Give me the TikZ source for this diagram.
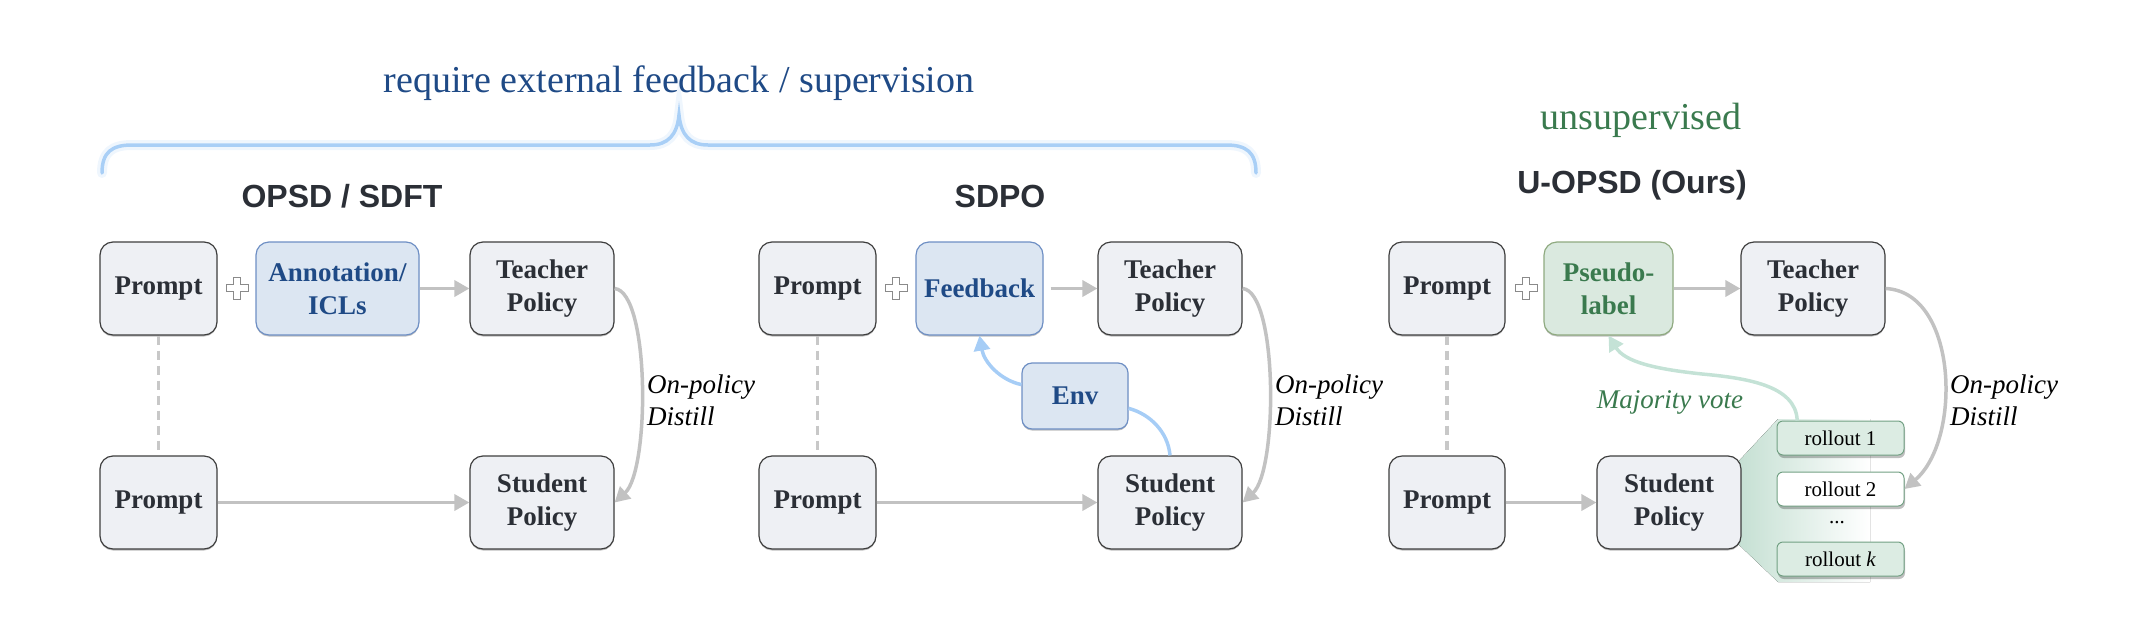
\documentclass[tikz,border=0pt]{standalone}
\usepackage{fontspec}
\setmainfont{Liberation Serif}
\setsansfont{Liberation Sans}
\usetikzlibrary{arrows.meta,calc,shadows}
\definecolor{darktext}{HTML}{2B2F36}
\definecolor{boxfill}{HTML}{EEF0F4}
\definecolor{boxborder}{HTML}{3E3E3E}
\definecolor{bluefill}{HTML}{DCE6F2}
\definecolor{blueborder}{HTML}{6E8FC4}
\definecolor{bluetext}{HTML}{1F4A86}
\definecolor{greenfill}{HTML}{DAE9DF}
\definecolor{greenborder}{HTML}{8FAA80}
\definecolor{greentext}{HTML}{3A7A4E}
\definecolor{arrgray}{HTML}{C2C2C2}
\definecolor{dashgray}{HTML}{C8C8C8}
\definecolor{bracecol}{HTML}{A9CFF6}
\definecolor{envarrow}{HTML}{A6CDF6}
\definecolor{mvarrow}{HTML}{C4E2D6}
\definecolor{rollfill}{HTML}{DCECE3}
\definecolor{rollborder}{HTML}{72A083}
\definecolor{plusgray}{HTML}{8A8A8A}
\definecolor{fanleft}{HTML}{C4DFD2}
\begin{document}
\begin{tikzpicture}[x=1pt,y=-1pt,
  box/.style={draw=boxborder, fill=boxfill, rounded corners=13pt, line width=1.2pt,
    minimum height=93pt, align=center, inner sep=2pt,
    font=\fontsize{27}{33}\selectfont\bfseries, text=darktext,
    drop shadow={shadow xshift=0pt, shadow yshift=-1.5pt, opacity=0.25, fill=black}},
  bluebox/.style={box, draw=blueborder, fill=bluefill, text=bluetext},
  greenbox/.style={box, draw=greenborder, fill=greenfill, text=greentext},
  roll/.style={draw=rollborder, fill=rollfill, rounded corners=6pt, line width=1pt,
    minimum width=127pt, minimum height=34pt, inner sep=1pt,
    font=\fontsize{21}{24}\selectfont, text=black,
    drop shadow={shadow xshift=1pt, shadow yshift=-3pt, opacity=0.25, fill=black}},
  arr/.style={draw=arrgray, line width=3.5pt, -{Triangle[length=15pt,width=16pt]}},
  dashline/.style={draw=dashgray, line width=3.5pt, dash pattern=on 9pt off 6pt},
  envarr/.style={draw=envarrow, line width=3.5pt},
  mvarr/.style={draw=mvarrow, line width=3.5pt},
  lab/.style={align=left, font=\fontsize{27}{32}\selectfont\itshape, text=black, inner sep=0pt},
  title/.style={font=\fontsize{32}{36}\selectfont\sffamily\bfseries, text=darktext, inner sep=0pt},
  bigtxt/.style={font=\fontsize{38}{44}\selectfont, inner sep=0pt},
  plussign/.pic={\draw[fill=white, draw=plusgray, line width=1pt]
    (-3.5,-11) -- (3.5,-11) -- (3.5,-3.5) -- (11,-3.5) -- (11,3.5) -- (3.5,3.5) --
    (3.5,11) -- (-3.5,11) -- (-3.5,3.5) -- (-11,3.5) -- (-11,-3.5) -- (-3.5,-3.5) -- cycle;}
]
\useasboundingbox (0,0) rectangle (2130,640);

% ---------- brace and headings ----------
\draw[bracecol, line width=10pt, opacity=0.18, line cap=round]
  (102,173) .. controls (102,152) and (112,145) .. (132,145) -- (650,145)
  .. controls (668,145) and (677,135) .. (679,115)
  .. controls (681,135) and (690,145) .. (708,145) -- (1226,145)
  .. controls (1246,145) and (1256,152) .. (1256,173);
\draw[bracecol, line width=3.5pt, line cap=round]
  (102,173) .. controls (102,152) and (112,145) .. (132,145) -- (650,145)
  .. controls (668,145) and (677,135) .. (679,115)
  .. controls (681,135) and (690,145) .. (708,145) -- (1226,145)
  .. controls (1246,145) and (1256,152) .. (1256,173);
\node[bigtxt, text=bluetext] (req) at (679,83) {require external feedback / supervision};
\node[bigtxt, text=greentext] (unsup) at (1641,120) {unsupervised};
\node[title, anchor=base] (h1) at (342,207) {OPSD / SDFT};
\node[title, anchor=base] (h2) at (1000,207) {SDPO};
\node[title, anchor=base] (h3) at (1632,193) {U-OPSD (Ours)};

% ---------- panel 1 ----------
\node[box, minimum width=117pt] (p1t) at (158.5,288.5) {Prompt};
\node[bluebox, minimum width=163pt] (ann) at (337.5,288.5) {Annotation/\\ICLs};
\node[box, minimum width=144pt] (t1) at (542,288.5) {Teacher\\Policy};
\node[box, minimum width=117pt] (p1b) at (158.5,502.5) {Prompt};
\node[box, minimum width=144pt] (s1) at (542,502.5) {Student\\Policy};
\pic at (237,288) {plussign};
\draw[dashline] (p1t) -- (p1b);
\draw[arr] (ann.east) -- (t1.west);
\draw[arr] (p1b.east) -- (s1.west);
\draw[arr] (t1.east) .. controls (650,292) and (650,470) .. (s1.east);
\node[lab, anchor=west] (d1) at (647,400) {On-policy\\Distill};

% ---------- panel 2 ----------
\node[box, minimum width=117pt] (p2t) at (817.5,288.5) {Prompt};
\node[bluebox, minimum width=127pt] (fb) at (979.5,288.5) {Feedback};
\node[box, minimum width=144pt] (t2) at (1170,288.5) {Teacher\\Policy};
\node[bluebox, minimum width=106pt, minimum height=66pt, rounded corners=10pt] (env) at (1075,396) {Env};
\node[box, minimum width=117pt] (p2b) at (817.5,502.5) {Prompt};
\node[box, minimum width=144pt] (s2) at (1170,502.5) {Student\\Policy};
\pic at (896,288) {plussign};
\draw[dashline] (p2t) -- (p2b);
\draw[arr] ([xshift=7pt]fb.east) -- (t2.west);
\draw[arr] (p2b.east) -- (s2.west);
\draw[arr] (t2.east) .. controls (1278,292) and (1278,470) .. (s2.east);
\node[lab, anchor=west] (d2) at (1275,400) {On-policy\\Distill};
\draw[envarr, -{Triangle[length=15pt,width=16pt]}] (env.168) .. controls (1000,380) and (984,362) .. (fb.south);
\draw[envarr] (s2.north) .. controls (1168,432) and (1150,414) .. (env.347);

% ---------- panel 3 ----------
\fill[left color=fanleft, right color=white]
  (1736,464) -- (1778,419) -- (1870,419) -- (1870,582) -- (1778,582) -- (1736,542) -- cycle;
\node[box, minimum width=116pt] (p3t) at (1447,288.5) {Prompt};
\node[greenbox, minimum width=129pt] (pl) at (1608.5,288.5) {Pseudo-\\label};
\node[box, minimum width=144pt] (t3) at (1813,288.5) {Teacher\\Policy};
\node[box, minimum width=116pt] (p3b) at (1447,502.5) {Prompt};
\node[box, minimum width=144pt] (s3) at (1669,502.5) {Student\\Policy};
\node[roll] (r1) at (1840.5,438) {rollout 1};
\node[roll, fill=white] (r2) at (1840.5,489) {rollout 2};
\node[font=\fontsize{21}{24}\selectfont, inner sep=0pt] (dots) at (1837,523) {...};
\node[roll] (rk) at (1840.5,559) {rollout \textit{k}};
\pic at (1526,288) {plussign};
\draw[dashline] (p3t) -- (p3b);
\draw[arr] (pl.east) -- (t3.west);
\draw[arr] (p3b.east) -- (s3.west);
\draw[arr] (t3.east) .. controls (1958,292) and (1962,440) .. (r2.east);
\node[lab, anchor=west] (d3) at (1950,400) {On-policy\\Distill};
\draw[mvarr, -{Triangle[length=15pt,width=16pt]}] (r1.158) .. controls (1796,385) and (1745,378) .. (1702,374)
  .. controls (1655,369) and (1625,362) .. (pl.south);
\node[lab, text=greentext] (mv) at (1670,402) {Majority vote};
\end{tikzpicture}
\end{document}
